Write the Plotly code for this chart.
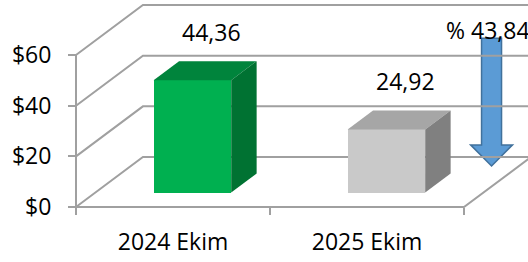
import plotly.graph_objects as go

# ---------------- data ----------------
categories = ["2024 Ekim", "2025 Ekim"]
values = [44.36, 24.92]
value_labels = ["44,36", "24,92"]
change_label = "% 43,84"
y_ticks = [0, 20, 40, 60]
y_tick_labels = ["$0", "$20", "$40", "$60"]

# ---------------- style / geometry ----------------
W, H = 528, 262
FONT = "Open Sans"
FS = 23
GRID = "#A0A0A0"
front_cols = ["#00B050", "#C9C9C9"]
top_cols = ["#00843C", "#A6A6A6"]
side_cols = ["#007232", "#808080"]

BAR_W = 0.40          # bar width (category units)
DX, DY = 0.345, 19.74  # full depth of the 3D box (x units, value units)
F_FRONT, F_BACK = 0.29, 0.67
LABEL_DX, LABEL_DY = 0.20, 24.7

# pixel layout helpers
X0PX, XUNIT = 76, 194.0      # px of x=-0.5, px per category
Y0PX, YUNIT = 207, 2.533     # px of value 0, px per value unit
plot_left_px, plot_bottom_px = 70, 215

x_range = [-0.5 - (X0PX - plot_left_px) / XUNIT, -0.5 + (W - X0PX) / XUNIT]
y_range = [-(plot_bottom_px - Y0PX) / YUNIT, Y0PX / YUNIT]

idx = list(range(len(categories)))
n = len(categories)

fig = go.Figure()

# front faces
fig.add_trace(go.Bar(
    x=idx, y=values, base=[F_FRONT * DY] * n,
    width=BAR_W, offset=-BAR_W / 2 + F_FRONT * DX,
    marker=dict(color=front_cols, line=dict(width=0)),
    hoverinfo="skip", showlegend=False,
))

# top and side faces
dxb = (F_BACK - F_FRONT) * DX
dyb = (F_BACK - F_FRONT) * DY
for i, v in zip(idx, values):
    x0 = i - BAR_W / 2 + F_FRONT * DX
    x1 = x0 + BAR_W
    yb = F_FRONT * DY
    yt = yb + v
    fig.add_trace(go.Scatter(
        x=[x0, x1, x1 + dxb, x0 + dxb, x0], y=[yt, yt, yt + dyb, yt + dyb, yt],
        fill="toself", fillcolor=top_cols[i], mode="lines", line=dict(width=0),
        hoverinfo="skip", showlegend=False))
    fig.add_trace(go.Scatter(
        x=[x1, x1, x1 + dxb, x1 + dxb, x1], y=[yb, yt, yt + dyb, yb + dyb, yb],
        fill="toself", fillcolor=side_cols[i], mode="lines", line=dict(width=0),
        hoverinfo="skip", showlegend=False))

shapes = []
# down arrow (decorative), drawn beneath the grid
ax_c = n - 1 + 0.642
a_top = values[0] + 22.3
a_head = values[1] - 0.4
a_tip = values[1] - 8.7
sw, hw = 0.0515, 0.108
path = (f"M {ax_c - sw},{a_top} L {ax_c + sw},{a_top} L {ax_c + sw},{a_head} "
        f"L {ax_c + hw},{a_head} L {ax_c},{a_tip} L {ax_c - hw},{a_head} "
        f"L {ax_c - sw},{a_head} Z")
shapes.append(dict(type="path", path=path, xref="x", yref="y",
                   fillcolor="#5B9BD5", line=dict(color="#41719C", width=1.5),
                   layer="below"))

left, right = -0.5, n - 0.5
for v in y_ticks:
    shapes.append(dict(type="path", xref="x", yref="y", layer="below",
                       path=f"M {left},{v} L {left + DX},{v + DY} L {right + DX},{v + DY}",
                       line=dict(color=GRID, width=2)))
# floor front edge + right edge
shapes.append(dict(type="path", xref="x", yref="y", layer="below",
                   path=f"M {left},0 L {right},0 L {right + DX},{DY}",
                   line=dict(color=GRID, width=2)))
# front vertical axis line
shapes.append(dict(type="line", xref="x", yref="y", layer="below",
                   x0=left, y0=0, x1=left, y1=y_ticks[-1],
                   line=dict(color=GRID, width=2)))

annotations = []
for i, v, t in zip(idx, values, value_labels):
    annotations.append(dict(x=i + LABEL_DX, y=v + LABEL_DY, text=t, showarrow=False,
                            xref="x", yref="y", font=dict(family=FONT, size=FS, color="#000")))
annotations.append(dict(x=n - 1 + 0.395, y=69.9, text=change_label, showarrow=False,
                        xanchor="left", xref="x", yref="y",
                        font=dict(family=FONT, size=FS, color="#000")))

fig.update_layout(
    width=W, height=H,
    margin=dict(l=0, r=0, t=0, b=0),
    paper_bgcolor="white", plot_bgcolor="white",
    shapes=shapes, annotations=annotations,
    bargap=0,
    xaxis=dict(
        domain=[plot_left_px / W, 1], range=x_range, anchor="free",
        position=(H - Y0PX) / H,
        tickmode="array", tickvals=idx, ticktext=categories, ticks="",
        showgrid=False, zeroline=False, showline=False, automargin=False,
        tickfont=dict(family=FONT, size=FS, color="#000"),
        ticklabelstandoff=19,
        minor=dict(tickmode="array", tickvals=[k - 0.5 for k in range(n + 1)],
                   ticks="outside", ticklen=7, tickwidth=2, tickcolor=GRID,
                   showgrid=False),
    ),
    yaxis=dict(
        domain=[(H - plot_bottom_px) / H, 1], range=y_range, anchor="free",
        position=X0PX / W,
        tickmode="array", tickvals=y_ticks, ticktext=y_tick_labels,
        ticks="outside", ticklen=8, tickwidth=2, tickcolor=GRID,
        showgrid=False, zeroline=False, showline=False, automargin=False,
        tickfont=dict(family=FONT, size=FS, color="#000"),
        ticklabelstandoff=12,
    ),
)

fig.write_html("out.html", config={"displayModeBar": False},
               post_script="document.body.style.margin='0';")
